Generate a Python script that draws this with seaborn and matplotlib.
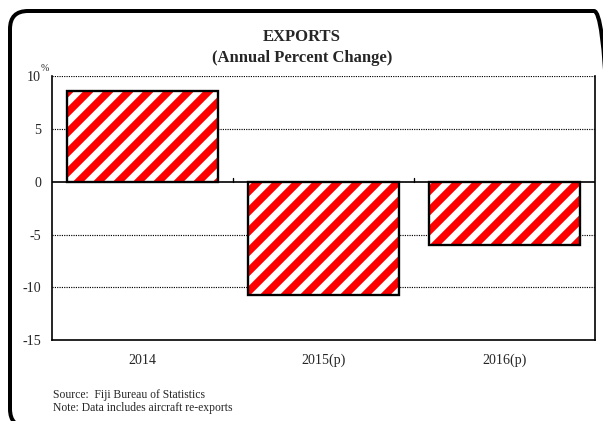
import pandas as pd
import matplotlib.pyplot as plt
import seaborn as sns
from matplotlib.patches import FancyBboxPatch

years = ['2014', '2015(p)', '2016(p)']
change = [8.6, -10.7, -6.0]
y_ticks = [-15, -10, -5, 0, 5, 10]

df = pd.DataFrame({'year': years, 'change': change})

sns.set_style('white')
plt.rcParams['font.family'] = ['Liberation Serif', 'DejaVu Serif']
plt.rcParams['hatch.linewidth'] = 4.5

DPI = 120
fig = plt.figure(figsize=(603 / DPI, 421 / DPI), dpi=DPI)
ax = fig.add_axes([0.086, 0.192, 0.901, 0.627])

# red stripes (hatch takes the edge colour), then black outlines on top
sns.barplot(data=df, x='year', y='change', ax=ax, color='white', width=0.83,
            edgecolor='red', linewidth=0, hatch='//')
sns.barplot(data=df, x='year', y='change', ax=ax, color='black', width=0.83,
            fill=False, linewidth=1.4)

ax.set_ylim(-15, 10)
ax.set_xlim(-0.5, 2.5)
ax.set_yticks(y_ticks)
ax.set_yticklabels([str(t) for t in y_ticks], fontsize=8.4)
ax.tick_params(axis='y', length=3.5, width=0.9, direction='out', pad=3)
ax.tick_params(axis='x', length=0, labelsize=8.4, pad=8)
ax.set_xlabel('')
ax.set_ylabel('')

for t in [-10, -5, 5, 10]:
    ax.axhline(t, color='black', linestyle=(0, (1, 1)), linewidth=0.7, zorder=0)
ax.axhline(0, color='black', linewidth=1.0, zorder=3)
for xb in [0.5, 1.5]:
    ax.plot([xb, xb], [0, 0.4], color='black', linewidth=0.8, zorder=3)

for s in ['left', 'bottom', 'right']:
    ax.spines[s].set_visible(True)
    ax.spines[s].set_color('black')
    ax.spines[s].set_linewidth(1.0)
ax.spines['top'].set_visible(False)

fig.text(0.501, 0.913, 'EXPORTS', ha='center', va='center', fontsize=10, fontweight='bold')
fig.text(0.501, 0.862, '(Annual Percent Change)', ha='center', va='center', fontsize=10, fontweight='bold')
fig.text(0.075, 0.838, '%', ha='center', va='center', fontsize=6)
fig.text(0.088, 0.062, 'Source:  Fiji Bureau of Statistics', ha='left', va='center', fontsize=7)
fig.text(0.088, 0.030, 'Note: Data includes aircraft re-exports', ha='left', va='center', fontsize=7)

frame = FancyBboxPatch((10 / DPI, -6 / DPI), 602 / DPI, 416 / DPI,
                       boxstyle='round,pad=0,rounding_size=%f' % (18 / DPI),
                       transform=fig.dpi_scale_trans, fill=False, edgecolor='black',
                       linewidth=2.4, clip_on=False)
fig.patches.append(frame)

fig.savefig('out.png', dpi=DPI)
